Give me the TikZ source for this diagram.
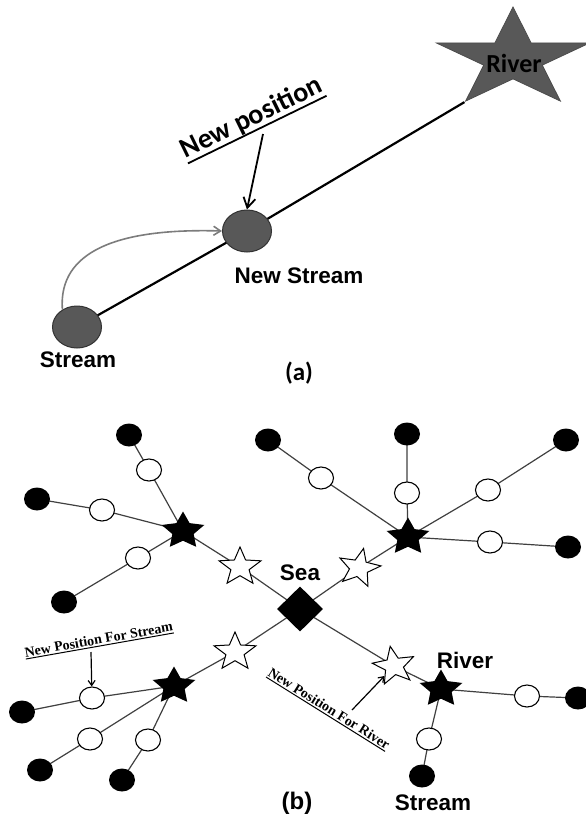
\documentclass[tikz,border=0pt]{standalone}
\usepackage{fontspec}
\setmainfont{Liberation Sans}
\newfontfamily\calfont{Carlito}
\newfontfamily\timesfont{Liberation Serif}
\usetikzlibrary{shapes.geometric,arrows.meta,backgrounds}
\definecolor{dgray}{HTML}{585858}
\definecolor{lgray}{HTML}{7C7C7C}
\definecolor{edgec}{HTML}{404040}
\newcommand{\ulbox}[3]{\leavevmode\setbox0=\hbox{#3}\rlap{\rule[-#1]{\wd0}{#2}}\box0}
\begin{document}
\begin{tikzpicture}[x=1pt,y=-1pt,
  gdot/.style={ellipse, draw=black!80, line width=1pt, fill=dgray, minimum width=49pt, minimum height=42pt, inner sep=0pt},
  bdot/.style={ellipse, fill=black, minimum width=26pt, minimum height=23pt, inner sep=0pt},
  wdot/.style={ellipse, draw=black, line width=1.1pt, fill=white, minimum width=25pt, minimum height=22pt, inner sep=0pt},
  bstar/.style={star, star points=5, star point ratio=2.0, fill=black, minimum size=39pt, xscale=1.15, inner sep=0pt},
  wstar/.style={star, star points=5, star point ratio=2.3, draw=black, line width=1pt, fill=white, minimum size=40pt, xscale=1.1, inner sep=0pt},
  seanode/.style={diamond, fill=black, minimum width=46pt, minimum height=45pt, inner sep=0pt},
  edge/.style={draw=edgec, line width=1.2pt},
  lbl/.style={font=\fontsize{22.5}{26}\selectfont\bfseries, inner sep=0pt},
  callbl/.style={font=\calfont\fontsize{26}{30}\selectfont\bfseries, inner sep=0pt},
  note/.style={font=\timesfont\fontsize{14}{16}\selectfont\bfseries, inner sep=0pt, anchor=base},
  sarrow/.style={line width=1.2pt, -{Straight Barb[length=5pt,width=7pt]}},
  ]
\useasboundingbox (0,0) rectangle (586,823);
% ---------------- (a) ----------------
\node[star, star points=5, star point ratio=2.62, minimum size=104pt, inner sep=0pt,
      xscale=1.55, fill=dgray, draw=black!70, line width=0.8pt] (riv) at (513,59) {};
\node[callbl] (rivl) at (514,63) {River};
\node[gdot] (s) at (77,327) {};
\node[gdot] (ns) at (247,231) {};
\begin{scope}[on background layer]
  \draw[line width=2.2pt] (s.center) -- (ns.center) -- (riv.outer point 3);
\end{scope}
\draw[lgray, line width=1.6pt, -{Straight Barb[length=7pt,width=9pt]}]
  (s.130) .. controls (58,250) and (120,228) .. (ns.west);
\node[font=\calfont\fontsize{28}{32}\selectfont\bfseries, rotate=26, anchor=base, inner sep=0pt]
  (np) at (255,125) {\ulbox{6pt}{1.8pt}{New position}};
\coordinate (npa) at (263,134);
\draw[line width=1.8pt, -{Straight Barb[length=10pt,width=12pt]}] (npa) -- (ns.north);
\node[lbl] (nsl) at (299,276) {New Stream};
\node[lbl] (sl) at (78,360) {Stream};
\node[callbl, font=\calfont\fontsize{25}{30}\selectfont\bfseries] (la) at (299,373) {(a)};
% ---------------- (b) ----------------
\node[seanode] (sea) at (300,609) {};
\node[lbl] (seal) at (300,573) {Sea};
\node[bstar] (bNW) at (183,531) {};
\node[wstar] (wNW) at (240,567) {};
\node[bstar] (bNE) at (408,537) {};
\node[wstar, rotate=-12] (wNE) at (359,568) {};
\node[bstar] (bSW) at (174,686) {};
\node[wstar] (wSW) at (235,652) {};
\node[bstar] (bSE) at (441,689) {};
\node[wstar, rotate=10] (wSE) at (394,666) {};
% NW
\node[wdot] (w1) at (149,470) {};  \node[bdot] (b1) at (129,435) {};
\node[wdot] (w2) at (102,510) {};  \node[bdot] (b2) at (37,499) {};
\node[wdot] (w3) at (138,558) {};  \node[bdot] (b3) at (64,602) {};
% NE
\node[wdot] (w4) at (321,478) {};  \node[bdot] (b4) at (268,440) {};
\node[wdot] (w5) at (407,493) {};  \node[bdot] (b5) at (407,434) {};
\node[wdot] (w6) at (488,490) {};  \node[bdot] (b6) at (566,440) {};
\node[wdot] (w7) at (490,542) {};  \node[bdot] (b7) at (568,547) {};
% SW
\node[wdot] (w8) at (92,698) {};   \node[bdot] (b8) at (22,712) {};
\node[wdot] (w9) at (90,739) {};   \node[bdot] (b9) at (40,770) {};
\node[wdot] (w10) at (148,740) {}; \node[bdot] (b10) at (122,780) {};
% SE
\node[wdot] (w11) at (527,696) {}; \node[bdot] (b11) at (578,698) {};
\node[wdot] (w12) at (429,739) {}; \node[bdot] (b12) at (422,776) {};
\begin{scope}[on background layer]
  \draw[edge] (sea.center) -- (wNW.center) -- (bNW.center);
  \draw[edge] (sea.center) -- (wNE.center) -- (bNE.center);
  \draw[edge] (sea.center) -- (wSW.center) -- (bSW.center);
  \draw[edge] (sea.center) -- (wSE.center) -- (bSE.center);
  \draw[edge] (bNW.center) -- (w1.center) -- (b1.center);
  \draw[edge] (bNW.center) -- (w2.center) -- (b2.center);
  \draw[edge] (bNW.center) -- (w3.center) -- (b3.center);
  \draw[edge] (bNE.center) -- (w4.center) -- (b4.center);
  \draw[edge] (bNE.center) -- (w5.center) -- (b5.center);
  \draw[edge] (bNE.center) -- (w6.center) -- (b6.center);
  \draw[edge] (bNE.center) -- (w7.center) -- (b7.center);
  \draw[edge] (bSW.center) -- (w8.center) -- (b8.center);
  \draw[edge] (bSW.center) -- (w9.center) -- (b9.center);
  \draw[edge] (bSW.center) -- (w10.center) -- (b10.center);
  \draw[edge] (bSE.center) -- (w11.center) -- (b11.center);
  \draw[edge] (bSE.center) -- (w12.center) -- (b12.center);
\end{scope}
\node[lbl] (rivb) at (465,660) {River};
\node[lbl] (strb) at (433,803) {Stream};
\node[lbl, font=\fontsize{24}{28}\selectfont\bfseries] (lb) at (297,803) {(b)};
% notes
\node[note, rotate=10] (nps) at (99.5,644) {\ulbox{2.5pt}{1pt}{New Position For Stream}};
\coordinate (spa) at (91,652);
\draw[sarrow] (spa) -- (w8);
\node[note, rotate=-32] (npr) at (326.6,712.5) {\ulbox{2.5pt}{1pt}{New Position For River}};
\coordinate (rpa) at (352,710);
\draw[sarrow] (rpa) -- (wSE);
\end{tikzpicture}
\end{document}
